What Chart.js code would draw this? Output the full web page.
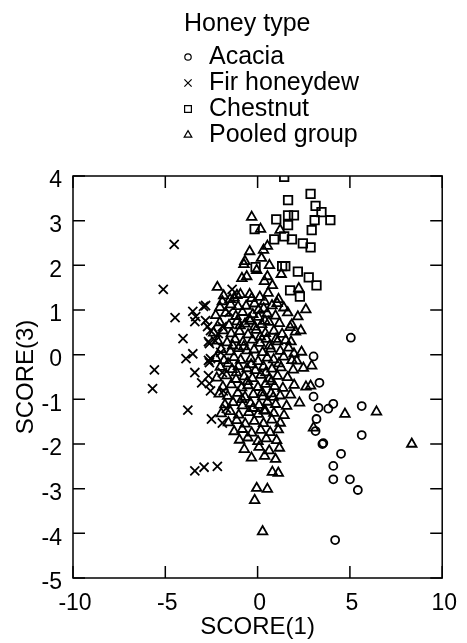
<!DOCTYPE html>
<html>
<head>
<meta charset="utf-8">
<script src="https://cdn.jsdelivr.net/npm/chart.js@4.4.1/dist/chart.umd.min.js"></script>
<style>
  html, body { margin: 0; padding: 0; background: #fff; }
  #wrap { width: 467px; height: 643px; }
</style>
</head>
<body>
<div id="wrap"><canvas id="chart" width="467" height="643"></canvas></div>
<script>
// Series values: [SCORE(1), SCORE(3)]
const acacia = [
  [5.05, 0.38], [3.03, -0.04], [3.35, -0.63], [3.03, -0.94], [3.30, -1.19], [3.83, -1.21],
  [4.10, -1.10], [5.64, -1.15], [3.19, -1.44], [3.14, -1.71], [5.64, -1.80], [3.51, -2.00],
  [3.56, -1.98], [4.52, -2.22], [4.10, -2.49], [4.10, -2.79], [5.00, -2.79], [5.43, -3.03],
  [4.20, -4.15]
];

const firHoneydew = [
  [-4.52, 2.47], [-5.11, 1.46], [-1.38, 1.46], [-3.51, 0.97], [-2.93, 1.08], [-3.35, 0.85],
  [-4.47, 0.83], [-3.40, 0.74], [-2.82, 0.76], [-2.71, 0.63], [-2.55, 0.54], [-1.91, 0.63],
  [-2.13, 0.47], [-4.04, 0.36], [-2.61, 0.25], [-2.29, 0.31], [-3.51, 0.02], [-3.88, -0.09],
  [-2.55, -0.09], [-2.61, -0.18], [-5.59, -0.34], [-3.40, -0.40], [-2.66, -0.47], [-1.91, -0.40],
  [-3.03, -0.63], [-2.61, -0.65], [-2.55, -0.81], [-1.86, -0.81], [-5.69, -0.76], [-3.78, -1.24],
  [-2.50, -1.44], [-1.91, -1.53], [-2.82, 1.10], [-2.66, 0.29], [-2.66, -0.13], [-3.40, -2.60],
  [-2.90, -2.52], [-2.18, -2.50], [-1.55, 0.95], [-2.00, 0.05], [-1.70, -1.20]
];

const chestnut = [
  [1.44, 3.98], [2.87, 3.60], [1.65, 3.46], [3.14, 3.33], [3.46, 3.19], [1.01, 3.03],
  [1.65, 3.12], [1.97, 3.12], [3.09, 3.01], [3.94, 3.01], [-0.16, 2.81], [1.65, 2.90],
  [2.93, 2.79], [0.90, 2.58], [1.44, 2.65], [1.86, 2.58], [2.45, 2.49], [2.87, 2.40],
  [-0.11, 1.96], [1.33, 1.98], [1.50, 1.98], [2.18, 1.86], [2.77, 1.73], [3.19, 1.55],
  [1.76, 1.44], [2.29, 1.30]
];

const pooledGroup = [
  // upper arm and outliers
  [-0.32, 3.08], [0.16, 2.81], [1.22, 2.79], [0.53, 2.43], [0.32, 2.34], [-0.43, 2.31],
  [0.21, 2.16], [-0.69, 2.09], [-0.74, 2.02], [0.64, 2.00], [-0.05, 1.89], [1.28, 1.80],
  [-0.85, 1.71], [-0.59, 1.75], [0.53, 1.75], [0.37, 1.64], [0.80, 1.55], [-2.18, 1.51],
  [-1.12, 1.33], [-0.43, 1.35], [2.23, 1.48], [-1.91, 1.19], [-1.49, 1.24], [-0.32, 1.26],
  [0.37, 1.19], [1.06, 1.15], [2.61, 1.01], [-1.06, 1.08], [1.76, 0.61], [2.34, 0.54],
  [1.81, 0.29], [1.97, 0.02], [1.86, -0.13], [2.93, -0.25], [2.87, -0.70], [3.03, -1.64],
  [4.73, -1.33], [6.44, -1.28], [8.35, -2.00],
  [-0.16, -3.26], [-0.05, -2.99], [0.53, -3.01], [0.80, -2.63], [1.12, -2.65], [0.27, -3.96],
  // main cluster
  [-1.84, 1.32], [-1.27, 1.27], [-0.93, 1.35], [0.12, 1.29], [0.57, 1.38], [1.13, 1.24],
  [-2.04, 1.06], [-1.46, 1.12], [-0.62, 1.09], [-0.17, 1.14], [0.33, 1.03], [0.78, 1.10], [1.42, 1.05],
  [-2.27, 0.88], [-1.73, 0.93], [-1.18, 0.86], [-0.82, 0.95], [-0.26, 0.90], [0.04, 0.84], [0.52, 0.92],
  [0.97, 0.87], [1.63, 0.94], [2.18, 0.85],
  [-2.05, 0.72], [-1.55, 0.66], [-1.12, 0.74], [-0.68, 0.69], [-0.41, 0.75], [0.22, 0.68], [0.61, 0.73],
  [1.18, 0.70], [1.85, 0.67],
  [-2.38, 0.49], [-1.87, 0.54], [-1.43, 0.47], [-0.98, 0.52], [-0.52, 0.45], [-0.08, 0.55], [0.42, 0.48],
  [0.88, 0.53], [1.33, 0.46], [2.05, 0.51],
  [-2.17, 0.31], [-1.65, 0.27], [-1.22, 0.34], [-0.79, 0.28], [-0.28, 0.33], [0.13, 0.26], [0.48, 0.35],
  [1.07, 0.29], [1.52, 0.32],
  [-1.98, 0.12], [-1.47, 0.07], [-1.03, 0.14], [-0.58, 0.09], [-0.19, 0.11], [0.27, 0.05], [0.71, 0.13],
  [1.23, 0.08], [1.68, 0.15], [2.38, 0.06],
  [-2.26, -0.08], [-1.82, -0.13], [-1.28, -0.06], [-0.92, -0.12], [-0.37, -0.09], [0.03, -0.15],
  [0.52, -0.07], [0.87, -0.11], [1.41, -0.05], [2.12, -0.14],
  [-2.02, -0.28], [-1.38, -0.33], [-1.04, -0.26], [-0.57, -0.31], [-0.12, -0.35], [0.32, -0.27],
  [0.78, -0.32], [1.27, -0.29], [1.93, -0.34], [2.48, -0.30],
  [-2.21, -0.52], [-1.68, -0.47], [-1.17, -0.55], [-0.73, -0.49], [-0.28, -0.53], [0.18, -0.46],
  [0.63, -0.54], [1.08, -0.48], [1.62, -0.51],
  [-1.88, -0.72], [-1.42, -0.67], [-0.87, -0.74], [-0.52, -0.69], [0.02, -0.73], [0.43, -0.66],
  [0.92, -0.71], [1.37, -0.75], [1.98, -0.68], [2.62, -0.72],
  [-2.08, -0.88], [-1.62, -0.93], [-1.07, -0.86], [-0.68, -0.95], [-0.23, -0.89], [0.28, -0.94],
  [0.73, -0.87], [1.22, -0.92], [1.78, -0.90],
  [-1.77, -1.12], [-1.33, -1.07], [-0.82, -1.14], [-0.38, -1.09], [0.08, -1.13], [0.53, -1.06],
  [0.98, -1.11], [1.57, -1.15], [2.27, -1.08],
  [-1.97, -1.32], [-1.48, -1.27], [-1.02, -1.35], [-0.47, -1.29], [0.03, -1.33], [0.42, -1.26],
  [0.88, -1.31], [1.43, -1.36],
  [-1.58, -1.52], [-1.13, -1.47], [-0.67, -1.55], [-0.18, -1.49], [0.32, -1.54], [0.77, -1.46], [1.23, -1.53],
  [-1.27, -1.72], [-0.83, -1.67], [-0.32, -1.75], [0.17, -1.69], [0.68, -1.74], [1.12, -1.68],
  [-0.98, -1.91], [-0.53, -1.86], [0.02, -1.94], [0.47, -1.88], [1.03, -1.92],
  [-0.72, -2.12], [0.08, -2.07], [0.63, -2.15], [1.18, -2.09],
  [-0.33, -2.31], [0.38, -2.27], [0.97, -2.34],
  // extra density in the centre
  [-0.75, 0.18], [-0.35, -0.22], [0.15, 0.40], [0.45, -0.40], [-0.15, 0.62], [0.25, -0.85],
  [-0.55, -0.60], [0.65, 0.20], [-1.15, -0.40], [0.05, 1.00], [-0.45, 0.80], [0.35, -1.25],
  [-0.85, -1.00], [0.75, -0.60], [1.00, 0.35], [-1.35, 0.20], [-0.95, 0.65], [0.85, -0.95],
  [-0.25, -1.20], [1.15, -0.20], [-1.60, -0.20], [0.40, 0.75]
];

const seriesNames = ['Acacia', 'Fir honeydew', 'Chestnut', 'Pooled group'];
const seriesStyles = ['circle', 'crossRot', 'rect', 'triangle'];
const seriesRadius = [4, 6.4, 6, 5.5];
const xTicks = [-10, -5, 0, 5, 10];
const yTicks = [-5, -4, -3, -2, -1, 0, 1, 2, 3, 4];

const FONT = "'Liberation Sans', Arial, Helvetica, sans-serif";
const toPts = (arr) => arr.map(([x, y]) => ({ x, y }));
const seriesData = [acacia, firHoneydew, chestnut, pooledGroup];

// box round the plot with inward tick marks on all four sides
const frameTicks = {
  id: 'frameTicks',
  afterDraw(chart) {
    const { ctx, chartArea: a, scales } = chart;
    const len = 12;
    ctx.save();
    ctx.strokeStyle = '#000';
    ctx.lineWidth = 1.5;
    ctx.strokeRect(a.left, a.top, a.right - a.left, a.bottom - a.top);
    ctx.beginPath();
    scales.x.ticks.forEach((t) => {
      const px = scales.x.getPixelForValue(t.value);
      ctx.moveTo(px, a.bottom); ctx.lineTo(px, a.bottom - len);
      ctx.moveTo(px, a.top); ctx.lineTo(px, a.top + len);
    });
    scales.y.ticks.forEach((t) => {
      const py = scales.y.getPixelForValue(t.value);
      ctx.moveTo(a.left, py); ctx.lineTo(a.left + len, py);
      ctx.moveTo(a.right, py); ctx.lineTo(a.right - len, py);
    });
    ctx.stroke();
    ctx.restore();
  }
};

// "Honey type" legend stacked above the plot
const honeyLegend = {
  id: 'honeyLegend',
  afterDraw(chart) {
    const ctx = chart.ctx;
    const left = 184, symX = 188, textX = 209;
    const rows = [57, 83, 109, 135];
    ctx.save();
    ctx.fillStyle = '#000';
    ctx.textBaseline = 'middle';
    ctx.textAlign = 'left';
    ctx.font = `25px ${FONT}`;
    ctx.fillText('Honey type', left, 24);
    chart.data.datasets.forEach((ds, i) => {
      ctx.strokeStyle = '#000';
      ctx.fillStyle = 'rgba(0,0,0,0)';
      ctx.lineWidth = 1.2;
      Chart.helpers.drawPoint(ctx, {
        pointStyle: ds.pointStyle, rotation: 0,
        radius: ds.pointRadius * 0.8, borderWidth: 1.2
      }, symX, rows[i]);
      ctx.fillStyle = '#000';
      ctx.fillText(ds.label, textX, rows[i]);
    });
    ctx.restore();
  }
};

const datasets = seriesData.map((d, i) => ({
  label: seriesNames[i],
  data: toPts(d),
  pointStyle: seriesStyles[i],
  pointRadius: seriesRadius[i],
  pointBorderWidth: 1.8,
  borderColor: '#000',
  pointBorderColor: '#000',
  backgroundColor: 'rgba(0,0,0,0)',
  pointBackgroundColor: 'rgba(0,0,0,0)'
}));

const canvas = document.getElementById('chart');
new Chart(canvas.getContext('2d'), {
  type: 'scatter',
  data: { datasets },
  options: {
    responsive: false,
    animation: false,
    layout: { padding: { top: 176, right: 16, left: 0, bottom: 0 } },
    plugins: { legend: { display: false }, tooltip: { enabled: false } },
    scales: {
      x: {
        type: 'linear', min: -10, max: 10,
        afterBuildTicks: (s) => { s.ticks = xTicks.map((v) => ({ value: v })); },
        ticks: { color: '#000', font: { family: FONT, size: 23 }, padding: 12, labelOffset: 2, maxRotation: 0 },
        grid: { display: false, drawTicks: false },
        border: { display: false },
        title: { display: true, text: 'SCORE(1)', color: '#000', font: { family: FONT, size: 24 }, padding: { top: 0, bottom: 1 } },
        afterFit: (s) => { s.height = 65; }
      },
      y: {
        type: 'linear', min: -5, max: 4,
        afterBuildTicks: (s) => { s.ticks = yTicks.map((v) => ({ value: v })); },
        ticks: { color: '#000', font: { family: FONT, size: 23 }, padding: 11, labelOffset: 5 },
        grid: { display: false, drawTicks: false },
        border: { display: false },
        title: { display: true, text: 'SCORE(3)', color: '#000', font: { family: FONT, size: 24 }, padding: { top: 12, bottom: 0 } },
        afterFit: (s) => { s.width = 73; }
      }
    }
  },
  plugins: [frameTicks, honeyLegend]
});
</script>
</body>
</html>
